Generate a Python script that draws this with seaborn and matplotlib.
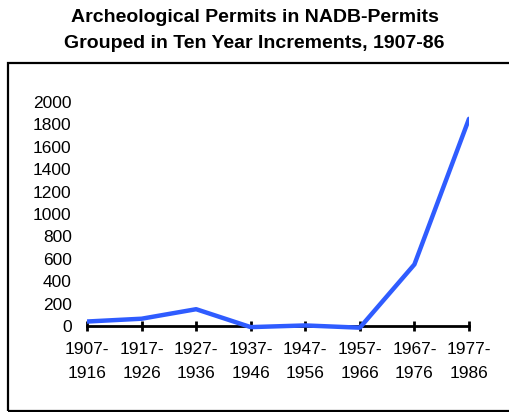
import matplotlib
matplotlib.use("Agg")
import matplotlib.pyplot as plt
import seaborn as sns
import pandas as pd
from matplotlib.patches import Rectangle

periods = ["1907-\n1916", "1917-\n1926", "1927-\n1936", "1937-\n1946",
           "1947-\n1956", "1957-\n1966", "1967-\n1976", "1977-\n1986"]
permits = [40, 65, 150, -10, 5, -15, 550, 1850]
yticks = [0, 200, 400, 600, 800, 1000, 1200, 1400, 1600, 1800, 2000]

sns.set_theme(style="white")
plt.rcParams['font.family'] = ['Liberation Sans', 'DejaVu Sans']

df = pd.DataFrame({"pos": range(len(periods)), "permits": permits})

fig = plt.figure(figsize=(5.09, 4.12), dpi=100)
ax = fig.add_axes([87/509, 1 - 331.6/412, (469-87)/509, (331.6-102)/412])

sns.lineplot(data=df, x="pos", y="permits", ax=ax, color="#2f5cff", linewidth=3.2)

ax.set_xlim(0, len(periods) - 1)
ax.set_ylim(-50, 2000)
ax.set_xlabel("")
ax.set_ylabel("")

for s in ["top", "right", "left"]:
    ax.spines[s].set_visible(False)
ax.spines["bottom"].set_position(("data", 0))
ax.spines["bottom"].set_color("black")
ax.spines["bottom"].set_linewidth(2)
ax.spines["bottom"].set_zorder(1)
ax.tick_params(axis="x", direction="inout", length=7, width=2, color="black",
               bottom=True, pad=8, labelcolor="black", labelsize=12.5)
ax.tick_params(axis="y", left=False, pad=5, labelcolor="black", labelsize=12.5)

ax.set_xticks(range(len(periods)))
ax.set_xticklabels(periods, fontsize=12.5, linespacing=1.75)
ax.set_yticks(yticks)
ax.set_yticklabels([str(v) for v in yticks], fontsize=12.5)

fig.text(0.5, 1 - 18/412, "Archeological Permits in NADB-Permits", ha="center", va="center",
         fontsize=14, fontweight="bold", color="black")
fig.text(0.5, 1 - 44/412, "Grouped in Ten Year Increments, 1907-86", ha="center", va="center",
         fontsize=14, fontweight="bold", color="black")

fig.patches.append(Rectangle((8/509, 1 - 411/412), 1.0, (411-63)/412,
                             transform=fig.transFigure, fill=False, edgecolor="black",
                             linewidth=1.6, clip_on=False))

fig.savefig("out.png", dpi=100)
